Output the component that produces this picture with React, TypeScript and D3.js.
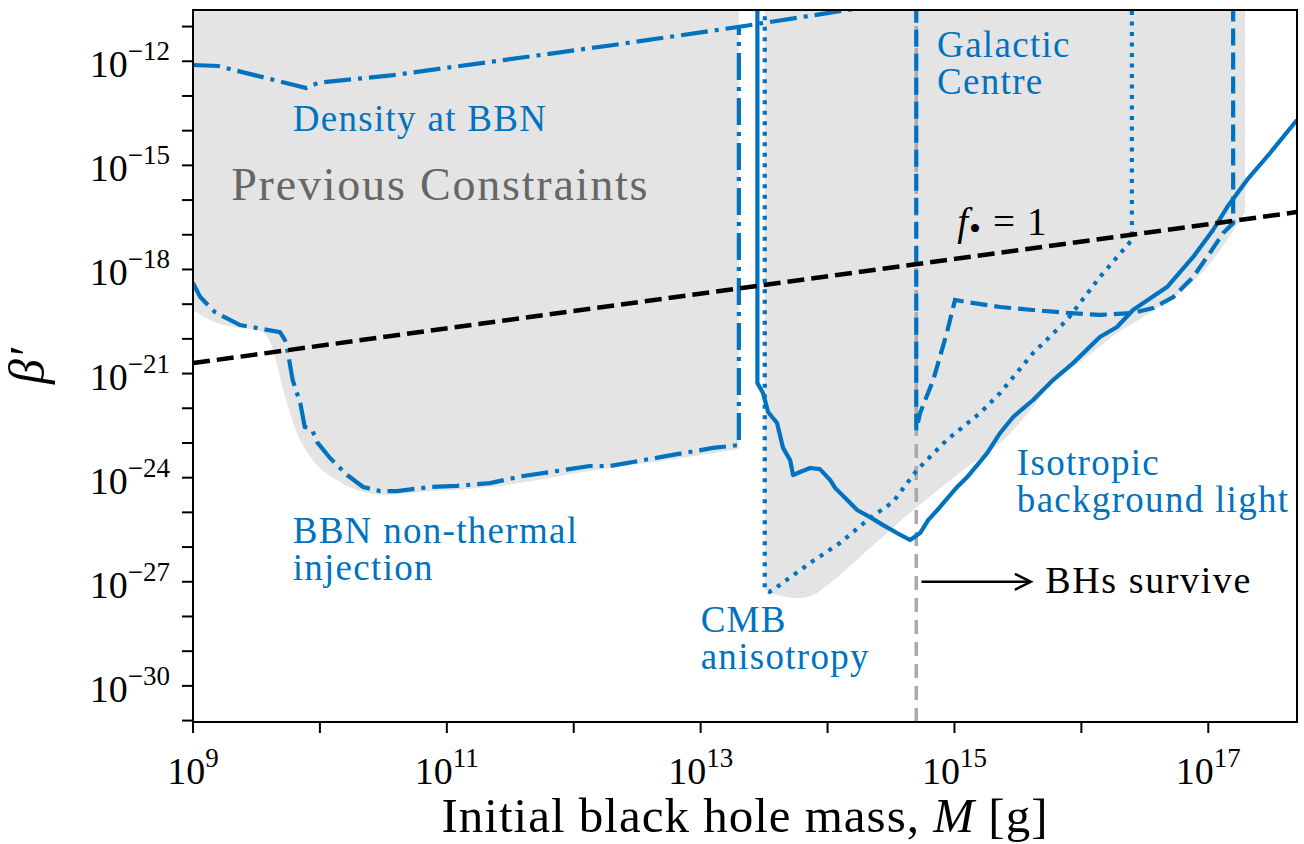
import * as d3 from "d3";

type Pt = [number, number];

// values, as [M in g, beta']
const densityBBN: Pt[] = [
  [1e9, 7.8e-13], [1.57e9, 7.3e-13], [7.8e9, 1.7e-13], [9.7e9, 2.4e-13],
  [3.8e10, 4.0e-13], [2.9e11, 1.1e-12], [2.0e12, 2.9e-12], [1.74e13, 9.1e-12],
  [2.6e14, 4.2e-11],
];

const bbnInjection: Pt[] = [
  [1e9, 4.1e-19], [1.14e9, 1.6e-19], [1.49e9, 5.9e-20], [2.35e9, 2.5e-20],
  [4.85e9, 1.57e-20], [5.3e9, 9.3e-21], [5.6e9, 3.9e-21], [6.1e9, 6.5e-22],
  [7.0e9, 1.42e-22], [7.6e9, 2.9e-23], [8.7e9, 2.36e-23], [9.5e9, 1.06e-23],
  [1.2e10, 3.7e-24], [1.64e10, 1.19e-24], [2.19e10, 5.4e-25], [2.98e10, 4.1e-25],
  [4.05e10, 4.1e-25], [7.4e10, 5.4e-25], [1.2e11, 5.8e-25], [2.19e11, 7.0e-25],
  [4.0e11, 1.12e-24], [7.4e11, 1.56e-24], [1.34e12, 2.17e-24], [1.93e12, 2.17e-24],
  [4.8e12, 3.9e-24], [1.25e13, 7.2e-24], [2.0e13, 8.7e-24], [2.0e13, 9.1e-12],
];

const isotropicLight: Pt[] = [
  [2.8e13, 4e-11], [2.8e13, 5.3e-22], [3.1e13, 2.75e-22], [3.4e13, 7.8e-23],
  [4.0e13, 3.76e-23], [4.46e13, 7.2e-24], [5.07e13, 3.2e-24], [5.35e13, 1.19e-24],
  [6.07e13, 1.46e-24], [7.3e13, 1.9e-24], [8.7e13, 1.77e-24], [1.05e14, 8.5e-25],
  [1.15e14, 5.0e-25], [1.43e14, 2.27e-25], [1.71e14, 1.17e-25], [2.16e14, 7.3e-26],
  [2.74e14, 4.3e-26], [3.53e14, 2.54e-26], [4.47e14, 1.6e-26], [5.36e14, 2.54e-26],
  [6.2e14, 6.0e-26], [7.7e14, 1.43e-25], [1.05e15, 5.4e-25], [1.26e15, 1.04e-24],
  [1.81e15, 5.1e-24], [2.29e15, 1.94e-23], [2.9e15, 5.6e-23], [4.16e15, 1.73e-22],
  [5.98e15, 6.5e-22], [8.6e15, 2.0e-21], [1.4e16, 1.13e-20], [1.91e16, 2.2e-20],
  [2.55e16, 6.8e-20], [4.73e16, 3.1e-19], [7.6e16, 2.29e-18], [1.09e17, 1.37e-17],
  [1.41e17, 6.3e-17], [2.02e17, 3.8e-16], [3.07e17, 2.27e-15], [5.0e17, 2.03e-14],
];

const galacticCentre: Pt[] = [
  [5e14, 4e-11], [5e14, 2.36e-23], [5.36e14, 7.3e-23], [6.8e14, 6.5e-22],
  [8.7e14, 1.47e-20], [1.01e15, 1.32e-19], [1.26e15, 1.15e-19], [2.29e15, 8.3e-20],
  [4.16e15, 6.8e-20], [7.7e15, 5.6e-20], [1.4e16, 4.9e-20], [2.55e16, 5.6e-20],
  [3.67e16, 7.7e-20], [5.3e16, 1.6e-19], [7.6e16, 6.1e-19], [1.03e17, 3.0e-18],
  [1.31e17, 1.12e-17], [1.57e17, 2.18e-17], [1.57e17, 4e-11],
];

const cmbAnisotropy: Pt[] = [
  [3.2e13, 4e-11], [3.2e13, 5.8e-28], [3.5e13, 5.1e-28], [4.2e13, 8.1e-28],
  [7.3e13, 3.5e-27], [1.25e14, 1.31e-26], [2.16e14, 6.9e-26], [3.28e14, 2.0e-25],
  [5.07e14, 1.66e-24], [8.7e14, 1.22e-23], [1.59e15, 7.3e-23], [2.29e15, 2.75e-22],
  [4.16e15, 3.9e-21], [7.7e15, 3.5e-20], [1.4e16, 6.1e-19], [2.5e16, 7.1e-18],
  [2.5e16, 4e-11],
];

// lower edges of the grey "previous constraints" regions
const prevLeft: Pt[] = [
  [1e9, 6.8e-20], [1.36e9, 3.5e-20], [2.07e9, 2.2e-20], [3.19e9, 1.8e-20],
  [3.9e9, 1.06e-20], [4.43e9, 3.0e-21], [4.85e9, 8.0e-22], [5.5e9, 1.42e-22],
  [6.6e9, 1.94e-23], [8.8e9, 3.2e-24], [1.36e10, 8.5e-25], [2.35e10, 3.6e-25],
  [3.14e10, 3.2e-25], [6.5e10, 3.9e-25], [2.19e11, 5.4e-25], [1.34e12, 1.56e-24],
  [4.8e12, 3.0e-24], [2.0e13, 6.7e-24],
];

const prevRight: Pt[] = [
  [3.2e13, 5.8e-28], [3.85e13, 4.4e-28], [6.07e13, 3.4e-28], [7.96e13, 4.4e-28],
  [1.05e14, 9.2e-28], [1.8e14, 5.2e-27], [2.94e14, 2.54e-26], [4.72e14, 1.17e-25],
  [6.8e14, 3.4e-25], [1.26e15, 2.03e-24], [2.29e15, 1.0e-23], [4.16e15, 1.09e-22],
  [5.98e15, 6.5e-22], [1.03e16, 2.46e-21], [1.91e16, 1.47e-20], [3.48e16, 5.6e-20],
  [6.3e16, 2.56e-19], [9.8e16, 1.18e-18], [1.41e17, 7.1e-18], [1.95e17, 4.5e-17],
];

const fOne: Pt[] = [[1e9, 2.0e-21], [5e17, 4.5e-17]];
const survivalMass = 5e14;
const survivalArrow: Pt[] = [[5.5e14, 1e-27], [4e15, 1e-27]];

const xTickExps = d3.range(9, 18);
const xLabelExps = [9, 11, 13, 15, 17];
const yTickExps = d3.range(-31, -10);
const yLabelExps = [-12, -15, -18, -21, -24, -27, -30];

// annotation anchors (data coords) and their lines
const labels: { at: Pt; lines: string[] }[] = [
  { at: [6.1e9, 1e-14], lines: ["Density at BBN"] },
  { at: [7.3e14, 1.33e-12], lines: ["Galactic", "Centre"] },
  { at: [3.1e15, 1.2e-24], lines: ["Isotropic", "background light"] },
  { at: [6.1e9, 1.3e-26], lines: ["BBN non-thermal", "injection"] },
  { at: [1e13, 3.5e-29], lines: ["CMB", "anisotropy"] },
];

const BLUE = "#0072c0";
const FONT = "'Liberation Serif', serif";

export default function App() {
  const W = 1304;
  const H = 844;
  const m = { left: 193, right: 1297, top: 10, bottom: 722 };

  const x = d3.scaleLog().domain([1e9, 5e17]).range([m.left, m.right]);
  const y = d3.scaleLog().domain([9.1e-32, 3e-11]).range([m.bottom, m.top]);

  const line = d3.line<Pt>().x((d) => x(d[0])).y((d) => y(d[1]));
  const area = d3
    .area<Pt>()
    .x((d) => x(d[0]))
    .y0(m.top)
    .y1((d) => y(d[1]))
    .curve(d3.curveMonotoneX);

  const lw = 4.2;
  const ax = x(survivalArrow[1][0]);
  const ay = y(survivalArrow[1][1]);

  return (
    <>
      <style>{`body{margin:0} svg text{font-family:${FONT};}`}</style>
      <svg width={W} height={H} style={{ display: "block", background: "#fff" }}>
        <defs>
          <clipPath id="plotClip">
            <rect x={m.left} y={m.top} width={m.right - m.left} height={m.bottom - m.top} />
          </clipPath>
        </defs>

        <g clipPath="url(#plotClip)">
          <path d={area(prevLeft) ?? ""} fill="#e4e4e4" />
          <path d={area(prevRight) ?? ""} fill="#e4e4e4" />

          <line
            x1={x(survivalMass)} x2={x(survivalMass)}
            y1={m.bottom} y2={m.top}
            stroke="#aaaaaa" strokeWidth={3.5} strokeDasharray="14 8"
          />

          <path d={line(densityBBN) ?? ""} fill="none" stroke={BLUE} strokeWidth={lw} strokeDasharray="27 7 4 7" />
          <path d={line(bbnInjection) ?? ""} fill="none" stroke={BLUE} strokeWidth={lw} strokeDasharray="27 7 4 7" />
          <path d={line(cmbAnisotropy) ?? ""} fill="none" stroke={BLUE} strokeWidth={lw} strokeDasharray="4 6.5" />
          <path d={line(galacticCentre) ?? ""} fill="none" stroke={BLUE} strokeWidth={lw} strokeDasharray="17 7" />
          <path d={line(isotropicLight) ?? ""} fill="none" stroke={BLUE} strokeWidth={lw} strokeLinejoin="round" />

          <path d={line(fOne) ?? ""} fill="none" stroke="#000" strokeWidth={4.5} strokeDasharray="17 7" />
        </g>

        {/* text annotations */}
        <text x={x(2e9)} y={y(1e-16)} fontSize={46} fill="#666" letterSpacing={1.8}>
          Previous Constraints
        </text>
        {labels.map((l, i) => (
          <text key={i} x={x(l.at[0])} y={y(l.at[1])} fontSize={37} fill={BLUE} letterSpacing={1.3}>
            {l.lines.map((s, j) => (
              <tspan key={j} x={x(l.at[0])} dy={j === 0 ? 0 : 37}>{s}</tspan>
            ))}
          </text>
        ))}
        <text x={x(1.05e15)} y={y(1e-17)} fontSize={39} fill="#000">
          <tspan fontStyle="italic">f</tspan>
          <tspan dy={5} dx={1} fontSize={34}>•</tspan>
          <tspan dy={-5} dx={12}>=</tspan>
          <tspan dx={12}>1</tspan>
        </text>

        <line
          x1={x(survivalArrow[0][0])} x2={ax}
          y1={y(survivalArrow[0][1])} y2={ay}
          stroke="#000" strokeWidth={2.5}
        />
        <path
          d={`M${ax - 16},${ay - 8}L${ax},${ay}L${ax - 16},${ay + 8}`}
          fill="none" stroke="#000" strokeWidth={2.5}
        />
        <text x={x(5.2e15)} y={y(4.7e-28)} fontSize={38} fill="#000" letterSpacing={1.6}>
          BHs survive
        </text>

        {/* frame */}
        <rect
          x={m.left} y={m.top} width={m.right - m.left} height={m.bottom - m.top}
          fill="none" stroke="#000" strokeWidth={2}
        />

        {/* x axis */}
        {xTickExps.map((e) => (
          <line key={e} x1={x(10 ** e)} x2={x(10 ** e)} y1={m.bottom} y2={m.bottom + 11} stroke="#000" strokeWidth={2} />
        ))}
        {xLabelExps.map((e) => (
          <text key={e} x={x(10 ** e)} y={784} textAnchor="middle" fontSize={38}>
            10<tspan dy={-17} fontSize={27}>{e}</tspan>
          </text>
        ))}
        <text x={(m.left + m.right) / 2} y={832} textAnchor="middle" fontSize={49} letterSpacing={1}>
          Initial black hole mass, <tspan fontStyle="italic">M</tspan> [g]
        </text>

        {/* y axis */}
        {yTickExps.map((e) => (
          <line key={e} x1={m.left - 11} x2={m.left} y1={y(10 ** e)} y2={y(10 ** e)} stroke="#000" strokeWidth={2} />
        ))}
        {yLabelExps.map((e) => (
          <text key={e} x={170} y={y(10 ** e) + 16} textAnchor="end" fontSize={38}>
            10<tspan dy={-17} fontSize={27}>{`\u2212${-e}`}</tspan>
          </text>
        ))}
        <text
          transform={`translate(44, ${(m.top + m.bottom) / 2}) rotate(-90)`}
          textAnchor="middle" fontSize={50} fontStyle="italic"
        >
          β′
        </text>
      </svg>
    </>
  );
}
